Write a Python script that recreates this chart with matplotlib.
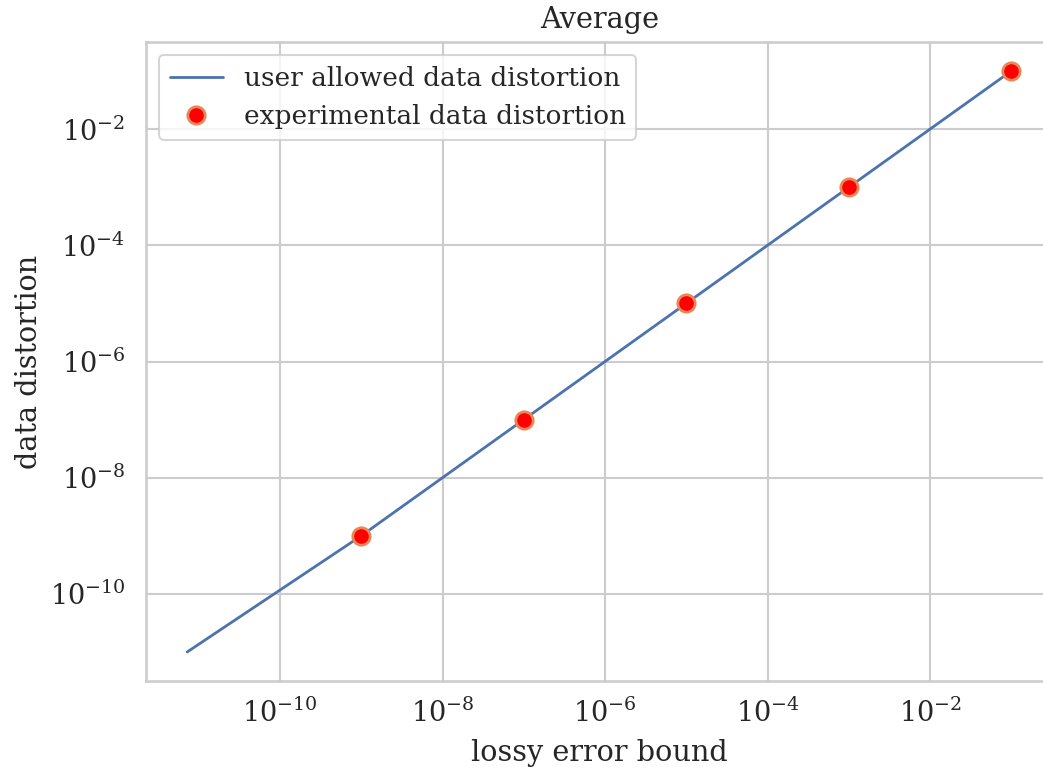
import matplotlib
matplotlib.use("Agg")
import matplotlib.pyplot as plt
import seaborn as sns

# data
line_x = [7.2e-12, 1e-9, 1e-7, 1e-5, 1e-3, 1e-1]
line_y = [1e-11, 1e-9, 1e-7, 1e-5, 1e-3, 1e-1]
exp_x = [1e-9, 1e-7, 1e-5, 1e-3, 1e-1]
exp_y = [1e-9, 1e-7, 1e-5, 1e-3, 1e-1]

sns.set_theme(context="talk", style="whitegrid", font_scale=1.15)
plt.rcParams['font.family'] = ['DejaVu Serif']
plt.rcParams['mathtext.fontset'] = 'dejavuserif'

fig = plt.figure(figsize=(10.43, 7.70), dpi=100)
ax = fig.add_axes([146/1043, 89/770, (1052.7-146)/1043, (728-89)/770])

ax.plot(line_x, line_y, color='#4C72B0', lw=2.0, label='user allowed data distortion')
ax.plot(exp_x, exp_y, 'o', color='red', markersize=12.5, markeredgecolor='#E8875A',
        markeredgewidth=2.0, label='experimental data distortion')
ax.set_xscale('log')
ax.set_yscale('log')
ax.set_xlim(10**-11.65, 10**-0.49)
ax.set_ylim(10**-11.5, 10**-0.5)
ax.set_xticks([1e-10, 1e-8, 1e-6, 1e-4, 1e-2])
ax.set_yticks([1e-10, 1e-8, 1e-6, 1e-4, 1e-2])
ax.minorticks_off()
ax.tick_params(labelsize=19.5, pad=6)
ax.tick_params(axis='x', pad=4)
ax.set_xlabel('lossy error bound', fontsize=20.7, labelpad=8)
ax.set_ylabel('data distortion', fontsize=20.7, labelpad=5)
ax.set_title('Average', fontsize=20.7, pad=10)
ax.legend(loc='upper left', fontsize=19)

fig.savefig('out.png', dpi=100)
